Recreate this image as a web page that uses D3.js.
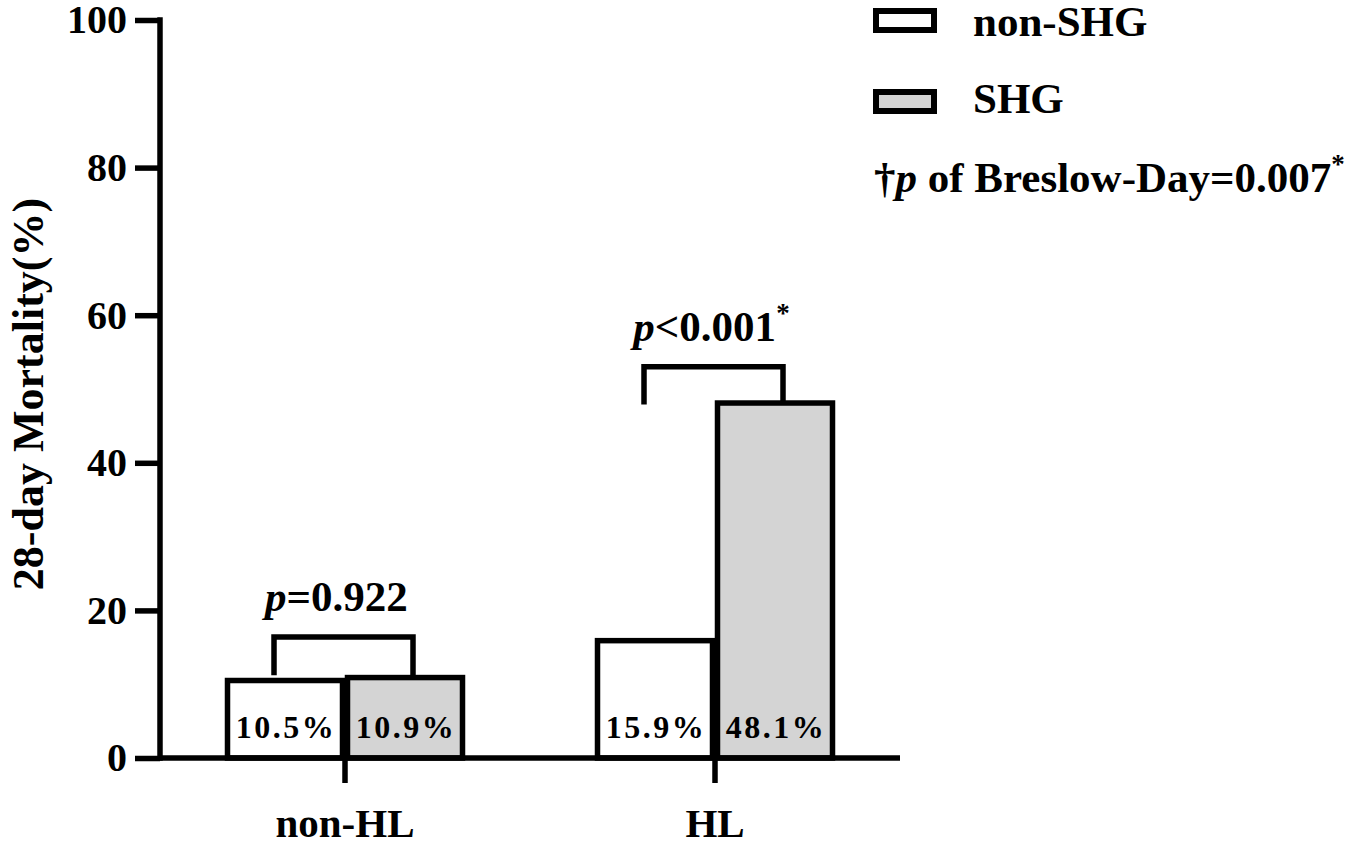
<!DOCTYPE html>
<html>
<head>
<meta charset="utf-8">
<script src="https://cdn.jsdelivr.net/npm/d3@7"></script>
<style>
  body { margin: 0; background: #fff; }
  text { font-family: "Liberation Serif", "Times New Roman", serif; font-weight: bold; }
</style>
</head>
<body>
<div id="container"></div>
<script>
const groups = ['non-HL', 'HL']
const series = ['non-SHG', 'SHG']
const barValues = [[10.5, 10.9], [15.9, 48.1]]
const barLabels = [['10.5%', '10.9%'], ['15.9%', '48.1%']]
const yTicks = [0, 20, 40, 60, 80, 100]
const pTexts = [['p', '=0.922', ''], ['p', '<0.001', '*']]
const bracketLevels = [[11.2, 16.4], [47.9, 53.0]]
const colors = ['#ffffff', '#d4d4d4']

const w = 1361
const h = 845
const plotLeft = 160, plotRight = 900, plotTop = 20, plotBottom = 758

const svg = d3.select('#container')
    .append('svg')
    .attr('width', w)
    .attr('height', h)

const scaleX = d3.scaleBand(groups, [plotLeft, plotRight]).padding(0)
const scaleSub = d3.scaleBand(series, [-120, 120]).padding(0)
const scaleY = d3.scaleLinear([0, 100], [plotBottom, plotTop])

// bars
groups.forEach((g, gi) => {
    const gx = scaleX(g) + scaleX.bandwidth() / 2
    const grp = svg.append('g')
    grp.selectAll('rect')
        .data(series)
        .enter()
        .append('rect')
        .attr('x', s => gx + scaleSub(s) + 2.5)
        .attr('y', (s, i) => scaleY(barValues[gi][i]))
        .attr('width', scaleSub.bandwidth() - 5)
        .attr('height', (s, i) => scaleY(0) - scaleY(barValues[gi][i]))
        .attr('fill', (s, i) => colors[i])
        .attr('stroke', 'black')
        .attr('stroke-width', 5.5)

    grp.selectAll('text.val')
        .data(series)
        .enter()
        .append('text')
        .attr('class', 'val')
        .attr('x', s => gx + scaleSub(s) + scaleSub.bandwidth() / 2 + 1)
        .attr('y', plotBottom - 20)
        .attr('text-anchor', 'middle')
        .attr('font-size', 32)
        .attr('letter-spacing', 2.5)
        .text((s, i) => barLabels[gi][i])

    // bracket
    const x1 = gx + scaleSub(series[0]) + scaleSub.bandwidth() / 2 - 11
    const x2 = gx + scaleSub(series[1]) + scaleSub.bandwidth() / 2 + 8
    const yb = scaleY(bracketLevels[gi][0])
    const yt = scaleY(bracketLevels[gi][1])
    svg.append('path')
        .attr('d', `M${x1},${yb}V${yt}H${x2}V${yb}`)
        .attr('fill', 'none')
        .attr('stroke', 'black')
        .attr('stroke-width', 5.5)

    const pt = svg.append('text')
        .attr('x', (x1 + x2) / 2 - 7 + (pTexts[gi][2] ? 5 : 0))
        .attr('y', yt - 26)
        .attr('text-anchor', 'middle')
        .attr('font-size', 43)
    pt.append('tspan').attr('font-style', 'italic').text(pTexts[gi][0])
    pt.append('tspan').text(pTexts[gi][1])
    if (pTexts[gi][2]) {
        pt.append('tspan').attr('font-size', 27).attr('dy', -19).text(pTexts[gi][2])
    }
})

// y axis
const axisY = d3.axisLeft(scaleY).tickValues(yTicks).tickSize(25).tickPadding(8)
const gy = svg.append('g')
    .attr('transform', `translate(${plotLeft},0)`)
    .call(axisY)
gy.select('.domain').remove()
gy.selectAll('line').attr('stroke-width', 5.5)
gy.selectAll('text')
    .attr('font-size', 40)
    .attr('font-family', '"Liberation Serif", serif')
    .attr('font-weight', 'bold')
    .attr('fill', 'black')
svg.append('line')
    .attr('x1', plotLeft).attr('x2', plotLeft)
    .attr('y1', plotTop - 2.75).attr('y2', plotBottom + 2.75)
    .attr('stroke', 'black').attr('stroke-width', 5.5)

// x axis
const axisX = d3.axisBottom(scaleX).tickSize(25).tickPadding(25)
const gxAxis = svg.append('g')
    .attr('transform', `translate(0,${plotBottom})`)
    .call(axisX)
gxAxis.select('.domain').remove()
gxAxis.selectAll('line').attr('stroke-width', 5.5)
gxAxis.selectAll('text')
    .attr('font-size', 41)
    .attr('font-family', '"Liberation Serif", serif')
    .attr('font-weight', 'bold')
    .attr('fill', 'black')
svg.append('line')
    .attr('x1', plotLeft).attr('x2', plotRight)
    .attr('y1', plotBottom).attr('y2', plotBottom)
    .attr('stroke', 'black').attr('stroke-width', 5.5)

// y label
svg.append('text')
    .attr('transform', `translate(43,394) rotate(-90)`)
    .attr('text-anchor', 'middle')
    .attr('font-size', 44)
    .text('28-day Mortality(%)')

// legend
const legend = svg.append('g').attr('id', 'legend')
series.forEach((s, i) => {
    legend.append('rect')
        .attr('x', 876)
        .attr('y', 11 + i * 81)
        .attr('width', 58)
        .attr('height', 19)
        .attr('fill', colors[i])
        .attr('stroke', 'black')
        .attr('stroke-width', 6)
    legend.append('text')
        .attr('x', 973)
        .attr('y', 36 + i * 77)
        .attr('font-size', 43)
        .text(s)
})
const note = legend.append('text')
    .attr('x', 874)
    .attr('y', 192)
    .attr('font-size', 43)
note.append('tspan').text('†')
note.append('tspan').attr('font-style', 'italic').text('p')
note.append('tspan').text(' of Breslow-Day=0.007')
note.append('tspan').attr('font-size', 27).attr('dy', -19).text('*')
</script>
</body>
</html>
